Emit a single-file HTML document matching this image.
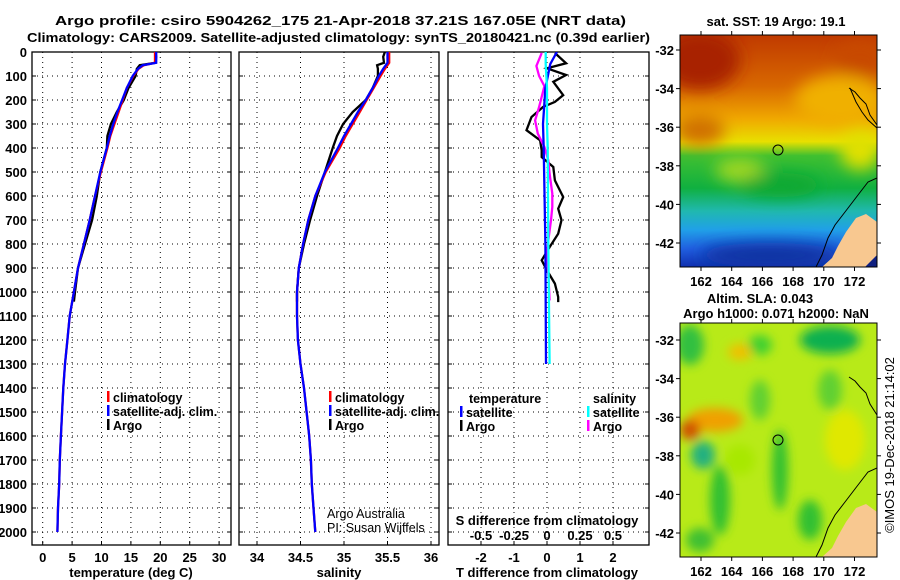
<!DOCTYPE html>
<html><head><meta charset="utf-8">
<style>
html,body{margin:0;padding:0;background:#fff;}
svg{display:block;font-family:"Liberation Sans",Arial,sans-serif;font-weight:bold;}
.t{font-size:13px;fill:#000;}
.lg{font-size:12.5px;fill:#000;}
.thin{font-weight:normal;}
</style></head>
<body>
<svg id="fig" width="900" height="580" viewBox="0 0 900 580" xmlns="http://www.w3.org/2000/svg">
<defs>
<clipPath id="c1"><rect x="32" y="52" width="199" height="493"/></clipPath>
<clipPath id="c2"><rect x="239" y="52" width="200" height="493"/></clipPath>
<clipPath id="c3"><rect x="448" y="52" width="201" height="493"/></clipPath>
<clipPath id="cm1"><rect x="680" y="35" width="197" height="232"/></clipPath>
<clipPath id="cm2"><rect x="680" y="323" width="197" height="234"/></clipPath>
<filter id="blur" x="-50%" y="-50%" width="200%" height="200%"><feGaussianBlur stdDeviation="8"/></filter>
<filter id="blur2" x="-50%" y="-50%" width="200%" height="200%"><feGaussianBlur stdDeviation="5"/></filter>
<linearGradient id="sst" x1="0" y1="0" x2="0" y2="1">
<stop offset="0" stop-color="#c03a00"/><stop offset="0.22" stop-color="#d86800"/>
<stop offset="0.36" stop-color="#f0a800"/><stop offset="0.46" stop-color="#e8e000"/>
<stop offset="0.52" stop-color="#40c030"/><stop offset="0.66" stop-color="#10b040"/>
<stop offset="0.76" stop-color="#20b8b0"/><stop offset="0.84" stop-color="#20a0e8"/>
<stop offset="0.92" stop-color="#2060e0"/><stop offset="1" stop-color="#1030b0"/>
</linearGradient>
</defs>

<text class="t" x="55" y="25" font-size="15" textLength="571" lengthAdjust="spacingAndGlyphs">Argo profile: csiro 5904262_175 21-Apr-2018 37.21S 167.05E (NRT data)</text>
<text class="t" x="27" y="42" font-size="15" textLength="623" lengthAdjust="spacingAndGlyphs">Climatology: CARS2009. Satellite-adjusted climatology: synTS_20180421.nc (0.39d earlier)</text>

<g id="p1"></g>
<g id="p2"></g>
<g id="p3"></g>

<!-- SST map -->
<g>
<text class="t" x="776" y="26" text-anchor="middle">sat. SST: 19 Argo: 19.1</text>
<g clip-path="url(#cm1)">
<rect x="680" y="35" width="197" height="232" fill="url(#sst)"/>
<g filter="url(#blur)">
<ellipse cx="700" cy="60" rx="40" ry="30" fill="#a82000"/>
<ellipse cx="860" cy="60" rx="25" ry="20" fill="#c84800"/>
<ellipse cx="840" cy="100" rx="45" ry="25" fill="#f0b000"/>
<ellipse cx="700" cy="130" rx="25" ry="15" fill="#d07000"/>
<ellipse cx="740" cy="170" rx="25" ry="12" fill="#a0d820"/>
<ellipse cx="860" cy="150" rx="20" ry="20" fill="#e0e000"/>
<ellipse cx="780" cy="185" rx="40" ry="12" fill="#10a830"/>
<ellipse cx="770" cy="255" rx="70" ry="12" fill="#1030a0"/>
</g>
<path d="M822,267 L832,258 L838,246 L846,232 L856,218 L866,214 L877,222 L877,267 Z" fill="#f8c890"/>
<path d="M865,267 L877,255 L877,267 Z" fill="#102080"/>
<path d="M816,267 L822,255 L828,238 L835,225 L845,212 L858,195 L868,182 L877,178" fill="none" stroke="#000" stroke-width="1"/>
<path d="M849,88 L855,92 L860,98 L866,104 L870,115 L877,125" fill="none" stroke="#000" stroke-width="1"/>
<path d="M850,88 L856,102 L862,112 L868,120 L877,128" fill="none" stroke="#000" stroke-width="1"/>
<circle cx="778" cy="150" r="5" fill="none" stroke="#000" stroke-width="1"/>
</g>
<rect x="680" y="35" width="197" height="232" fill="none" stroke="#000"/>
<g id="m1ax"></g>
</g>

<!-- SLA map -->
<g>
<text class="t" x="760" y="303" text-anchor="middle">Altim. SLA: 0.043</text>
<text class="t" x="776" y="318" text-anchor="middle">Argo h1000: 0.071 h2000: NaN</text>
<g clip-path="url(#cm2)">
<rect x="680" y="323" width="197" height="234" fill="#b8ea18"/>
<g filter="url(#blur2)">
<ellipse cx="690" cy="345" rx="14" ry="20" fill="#30c040"/>
<ellipse cx="830" cy="340" rx="30" ry="14" fill="#10b050"/>
<ellipse cx="760" cy="345" rx="12" ry="10" fill="#40d030"/>
<ellipse cx="740" cy="352" rx="12" ry="8" fill="#f0c000"/>
<ellipse cx="715" cy="420" rx="28" ry="12" fill="#f0a000"/>
<ellipse cx="690" cy="430" rx="10" ry="10" fill="#d05000"/>
<ellipse cx="703" cy="455" rx="12" ry="14" fill="#20b080"/>
<ellipse cx="720" cy="500" rx="10" ry="35" fill="#30c030"/>
<ellipse cx="780" cy="470" rx="8" ry="40" fill="#30c030"/>
<ellipse cx="810" cy="520" rx="12" ry="20" fill="#30c030"/>
<ellipse cx="700" cy="540" rx="14" ry="12" fill="#40c030"/>
<ellipse cx="845" cy="440" rx="20" ry="30" fill="#e0e800"/>
<ellipse cx="740" cy="460" rx="15" ry="15" fill="#a8e800"/>
<ellipse cx="760" cy="400" rx="10" ry="20" fill="#60d030"/>
<ellipse cx="830" cy="390" rx="12" ry="20" fill="#60d030"/>
</g>
<path d="M822,557 L832,548 L838,536 L846,522 L856,508 L866,504 L877,512 L877,557 Z" fill="#f8c890"/>
<path d="M816,557 L822,545 L828,528 L835,515 L845,502 L858,485 L868,472 L877,468" fill="none" stroke="#000" stroke-width="1"/>
<path d="M849,377 L855,381 L860,387 L866,393 L870,404 L877,415" fill="none" stroke="#000" stroke-width="1"/>
<circle cx="778" cy="440" r="5" fill="none" stroke="#000" stroke-width="1"/>
</g>
<rect x="680" y="323" width="197" height="234" fill="none" stroke="#000"/>
<g id="m2ax"></g>
</g>
<text class="thin" font-size="13" x="0" y="0" transform="translate(894,445) rotate(-90)" text-anchor="middle">©IMOS 19-Dec-2018 21:14:02</text>

<script>
// ---- data ----
const depthClim = [0,45,55,70,100,150,200,250,300,350,400,500,600,700,800,900,1000,1100,1200,1300,1400,1500,1600,1700,1800,1900,2000];
const tempClim  = [19.1,19.1,17.2,16.3,15.4,14.3,13.6,12.9,12.2,11.5,11.0,9.9,8.9,8.0,7.0,6.0,5.3,4.6,4.2,3.8,3.5,3.3,3.1,2.9,2.8,2.6,2.5];
const tempSat   = [19.3,19.3,17.0,16.2,15.3,14.3,13.5,12.7,12.0,11.4,10.9,9.8,8.9,8.0,7.0,6.0,5.3,4.6,4.2,3.8,3.5,3.3,3.1,2.9,2.8,2.6,2.5];
const depthArgo = [0,20,45,55,70,100,150,200,250,300,350,400,500,600,700,800,900,1000,1040];
const tempArgo  = [19.2,19.3,19.2,16.5,16.0,15.8,14.6,13.8,12.6,11.6,11.0,10.9,9.8,9.2,8.4,7.2,6.0,5.5,5.3];
const salClim   = [35.52,35.52,35.5,35.47,35.42,35.34,35.26,35.18,35.1,35.02,34.95,34.79,34.67,34.59,34.53,34.48,34.46,34.46,34.47,34.5,34.54,34.57,34.6,34.62,34.63,34.65,34.67];
const salSat    = [35.5,35.5,35.48,35.45,35.4,35.33,35.25,35.16,35.08,35.0,34.93,34.78,34.67,34.59,34.53,34.48,34.46,34.46,34.47,34.5,34.54,34.57,34.6,34.62,34.63,34.65,34.67];
const salArgo   = [35.47,35.45,35.46,35.38,35.39,35.39,35.33,35.25,35.1,34.99,34.92,34.87,34.78,34.69,34.61,34.54,34.48,34.46,34.46];
const depthDiffT = [4,47,68,96,124,180,208,229,271,326,368,410,438,479,535,604,653,701,757,813,868,910,965,1021,1042];
const diffTArgo  = [0.24,0.58,0,0.58,0.19,0.49,0.24,-0.12,-0.47,-0.62,-0.21,-0.16,-0.16,0.19,0.24,0.49,0.34,0.44,0.34,0.08,-0.16,0,0.24,0.34,0.34];
const depthDiffS = [4,58,100,142,229,285,340,396,451,507,590,646,701,785,854,924,1035];
const diffSArgo  = [-0.04,-0.08,-0.06,-0.02,-0.06,-0.09,-0.07,-0.02,0.01,0.02,0.04,0.04,0.03,0.01,0,0.01,0.02];
const depthSatDiff = [0,50,150,300,400,800,1300];
const diffTSat   = [0.3,0.1,-0.05,-0.12,-0.1,-0.05,-0.03];
const diffSSat   = [-0.01,-0.01,0,0.0,0.005,0.01,0.02];
const depthTicks = [0,100,200,300,400,500,600,700,800,900,1000,1100,1200,1300,1400,1500,1600,1700,1800,1900,2000];
const tempTicks = [0,5,10,15,20,25,30];
const salTicks = [34,34.5,35,35.5,36];
const salTickLabels = ["34","34.5","35","35.5","36"];
const tdTicks = [-2,-1,0,1,2];
const sdTicks = [-0.5,-0.25,0,0.25,0.5];
const sdTickLabels = ["-0.5","-0.25","0","0.25","0.5"];
const lonTicks = [162,164,166,168,170,172];
const latTicks = [-32,-34,-36,-38,-40,-42];

// ---- scales ----
const yD = d => 52 + d*0.24;
const xT = t => 42.7 + t*5.88;
const xS = s => 257 + (s-34)*87;
const xTD = t => 547 + t*33;
const xSD = s => 547 + s*132;
const xLon = l => 701 + (l-162)*15.35;
const yLat1 = l => 50 + (-32-l)*19.3;
const yLat2 = l => 340 + (-32-l)*19.3;

const NS = "http://www.w3.org/2000/svg";
function mk(parent, tag, attrs){ const e=document.createElementNS(NS,tag); for(const k in attrs) e.setAttribute(k,attrs[k]); parent.appendChild(e); return e; }
function txt(parent, s, x, y, anchor, cls){ const e=mk(parent,'text',{x:x,y:y,'text-anchor':anchor||'middle','class':cls||'t'}); e.textContent=s; return e; }

function panel(g, x0, w, vticks, xf){
  for(const v of vticks){ const l=mk(g,'line',{x1:xf(v),x2:xf(v),y1:52,y2:545,stroke:'#000','stroke-dasharray':'1,4','stroke-width':1});
    
     }
  for(const d of depthTicks){ const l=mk(g,'line',{x1:x0,x2:x0+w,y1:yD(d),y2:yD(d),stroke:'#000','stroke-dasharray':'1,4','stroke-width':1});
    
    
    mk(g,'line',{x1:x0,x2:x0+4,y1:yD(d),y2:yD(d),stroke:'#000'}); mk(g,'line',{x1:x0+w-4,x2:x0+w,y1:yD(d),y2:yD(d),stroke:'#000'}); }
  const r=mk(g,'rect',{x:x0,y:52,width:w,height:493,fill:'none',stroke:'#000','stroke-width':1.3});
  
  
}
function line(g, xs, ds, xf, color, clip, name){
  const pts = xs.map((v,i)=>xf(v).toFixed(1)+','+yD(ds[i]).toFixed(1)).join(' ');
  const p=mk(g,'polyline',{points:pts,fill:'none',stroke:color,'stroke-width':2.3,'clip-path':'url(#'+clip+')'});
  
  
}
function legendItem(g,x,y,color,label){
  mk(g,'rect',{x:x,y:y-11,width:2.5,height:11,fill:color});
  const t=txt(g,label,x+6,y,'start','lg');
  
  
}

// Panel 1
const p1=document.getElementById('p1');
panel(p1,32,199,tempTicks,xT);
for(const d of depthTicks){ const t=txt(p1,String(d),27,yD(d)+5,'end');
  
   }
for(const v of tempTicks){ mk(p1,'line',{x1:xT(v),x2:xT(v),y1:545,y2:541,stroke:'#000'}); const t=txt(p1,String(v),xT(v),562);
  
   }
const xl1=txt(p1,'temperature (deg C)',131,577);


line(p1,tempArgo,depthArgo,xT,'#000','c1','argo-temperature-line');
line(p1,tempClim,depthClim,xT,'#f00','c1','climatology-temperature-line');
line(p1,tempSat,depthClim,xT,'#00f','c1','satellite-temperature-line');
legendItem(p1,107,402,'#f00','climatology');
legendItem(p1,107,416,'#00f','satellite-adj. clim.');
legendItem(p1,107,430,'#000','Argo');

// Panel 2
const p2=document.getElementById('p2');
panel(p2,239,200,salTicks,xS);
salTicks.forEach((v,i)=>{ mk(p2,'line',{x1:xS(v),x2:xS(v),y1:545,y2:541,stroke:'#000'}); const t=txt(p2,salTickLabels[i],xS(v),562);
  
   });
const xl2=txt(p2,'salinity',339,577);


line(p2,salArgo,depthArgo,xS,'#000','c2','argo-salinity-line');
line(p2,salClim,depthClim,xS,'#f00','c2','climatology-salinity-line');
line(p2,salSat,depthClim,xS,'#00f','c2','satellite-salinity-line');
legendItem(p2,329,402,'#f00','climatology');
legendItem(p2,329,416,'#00f','satellite-adj. clim.');
legendItem(p2,329,430,'#000','Argo');
const cr1=txt(p2,'Argo Australia',327,518,'start','lg thin');


const cr2=txt(p2,'PI: Susan Wijffels',327,532,'start','lg thin');



// Panel 3
const p3=document.getElementById('p3');
panel(p3,448,201,tdTicks,xTD);
for(const v of tdTicks){ mk(p3,'line',{x1:xTD(v),x2:xTD(v),y1:545,y2:541,stroke:'#000'}); const t=txt(p3,String(v),xTD(v),562);
  
   }
sdTicks.forEach((v,i)=>{ const t=txt(p3,sdTickLabels[i],xSD(v),540);
  
   });
const st=txt(p3,'S difference from climatology',547,525);


const tt=txt(p3,'T difference from climatology',547,577);


line(p3,diffTArgo,depthDiffT,xTD,'#000','c3','argo-temp-diff-line');
line(p3,diffSArgo,depthDiffS,xSD,'#f0f','c3','argo-sal-diff-line');
line(p3,diffTSat,depthSatDiff,xTD,'#00f','c3','satellite-temp-diff-line');
line(p3,diffSSat,depthSatDiff,xSD,'#0ff','c3','satellite-sal-diff-line');
const lt=txt(p3,'temperature',469,403,'start','lg');


legendItem(p3,460,417,'#00f','satellite');
legendItem(p3,460,431,'#000','Argo');
const ls=txt(p3,'salinity',593,403,'start','lg');


legendItem(p3,587,417,'#0ff','satellite');
legendItem(p3,587,431,'#f0f','Argo');

// Map axes
function mapAxes(g, top, bottom, yLat){
  for(const l of lonTicks){ mk(g,'line',{x1:xLon(l),x2:xLon(l),y1:top,y2:top-4,stroke:'#000'}); mk(g,'line',{x1:xLon(l),x2:xLon(l),y1:bottom,y2:bottom+4,stroke:'#000'});
    const t=txt(g,String(l),xLon(l),bottom+19);
    
     }
  for(const l of latTicks){ const y=yLat(l); mk(g,'line',{x1:680,x2:676,y1:y,y2:y,stroke:'#000'}); mk(g,'line',{x1:877,x2:881,y1:y,y2:y,stroke:'#000'});
    const t=txt(g,String(l),674,y+5,'end');
    
     }
}
mapAxes(document.getElementById('m1ax'),35,267,yLat1);
mapAxes(document.getElementById('m2ax'),323,557,yLat2);
</script>
</svg>
</body></html>
